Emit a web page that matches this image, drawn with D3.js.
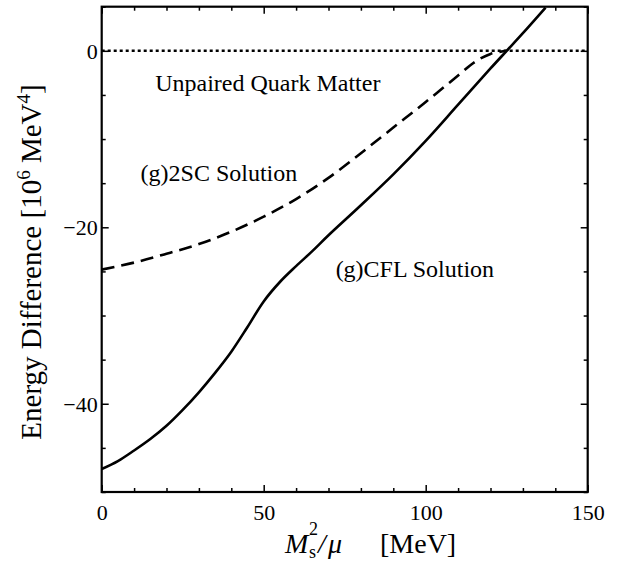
<!DOCTYPE html>
<html>
<head>
<meta charset="utf-8">
<script src="https://cdn.jsdelivr.net/npm/d3@7"></script>
<style>
html,body{margin:0;padding:0;background:#fff;}
svg{display:block;}
text{font-family:"Liberation Serif","Times New Roman",serif;fill:#000;}
</style>
</head>
<body>
<svg id="chart" width="619" height="562"></svg>
<script>
// ---- data ----
const cflX = [0,5,10,15,20,25,30,35,40,45,50,55,60,65,70,80,90,100,110,120,125,130,137];
const cflY = [-47.4,-46.5,-45.3,-44.0,-42.5,-40.7,-38.7,-36.5,-34.1,-31.3,-28.4,-26.2,-24.4,-22.7,-20.9,-17.5,-14.0,-10.2,-6.1,-2.0,0,2.0,4.9];
const scX = [0,10,20,30,40,50,60,70,80,90,100,110,115,120,125];
const scY = [-24.8,-24.0,-23.0,-21.9,-20.5,-18.8,-16.8,-14.4,-11.6,-8.7,-5.8,-2.8,-1.3,-0.35,0];
const zeroX = [0,150];
const zeroY = [0,0];
const xMajor = [0,50,100,150];
const xMinor = [10,20,30,40,60,70,80,90,110,120,130,140];
const yMajor = [0,-20,-40];
const yMinor = [5,-5,-10,-15,-25,-30,-35,-45,-50];
const labels = [
  {text:"Unpaired Quark Matter", x:16.5, y:-4.5},
  {text:"(g)2SC Solution", x:12, y:-14.7},
  {text:"(g)CFL Solution", x:72.2, y:-25.6}
];

// ---- layout ----
const L = 101.7, R = 587.7, T = 6.7, B = 492;
const FONT = '"Liberation Serif","Times New Roman",serif';
const svg = d3.select("#chart");
const x = d3.scaleLinear().domain([0,150]).range([L,R]);
const y = d3.scaleLinear().domain([-50,5]).range([B,T]);

svg.append("defs").append("clipPath").attr("id","clip")
  .append("rect").attr("x",L).attr("y",T).attr("width",R-L).attr("height",B-T);

const fmt = d => d < 0 ? "\u2212" + Math.abs(d) : String(d);

function addAxis(axisFn, scale, ticks, size, transform, labelsOn) {
  const g = svg.append("g").attr("transform", transform)
    .call(axisFn(scale).tickValues(ticks).tickSize(size).tickSizeOuter(0)
      .tickFormat(labelsOn ? fmt : ""));
  g.attr("font-family", FONT);
  g.select(".domain").remove();
  g.selectAll(".tick line").attr("stroke","#000").attr("stroke-width",1.5);
  return g;
}
// bottom
const gb = addAxis(d3.axisBottom, x, xMajor, -7, `translate(0,${B})`, true);
gb.selectAll("text").attr("font-size",22).attr("y",12.5).attr("dy","0.71em").attr("fill","#000");
addAxis(d3.axisBottom, x, xMinor, -4, `translate(0,${B})`, false);
// top
addAxis(d3.axisTop, x, xMajor, -7, `translate(0,${T})`, false);
addAxis(d3.axisTop, x, xMinor, -4, `translate(0,${T})`, false);
// left
const gl = addAxis(d3.axisLeft, y, yMajor, -7, `translate(${L},0)`, true);
gl.selectAll("text").attr("font-size",22).attr("x",-4).attr("dy","0.34em").attr("fill","#000");
addAxis(d3.axisLeft, y, yMinor, -4, `translate(${L},0)`, false);
// right
addAxis(d3.axisRight, y, yMajor, -7, `translate(${R},0)`, false);
addAxis(d3.axisRight, y, yMinor, -4, `translate(${R},0)`, false);

// frame
svg.append("rect").attr("x",L).attr("y",T).attr("width",R-L).attr("height",B-T)
  .attr("fill","none").attr("stroke","#000").attr("stroke-width",2.2);

// lines
const line = d3.line().x(d=>x(d[0])).y(d=>y(d[1])).curve(d3.curveCatmullRom.alpha(0.5));
const plot = svg.append("g").attr("clip-path","url(#clip)");
plot.append("path").datum(zeroX.map((v,i)=>[v,zeroY[i]]))
  .attr("d",line).attr("fill","none").attr("stroke","#000")
  .attr("stroke-width",2.6).attr("stroke-dasharray","3,3");
plot.append("path").datum(scX.map((v,i)=>[v,scY[i]]))
  .attr("d",line).attr("fill","none").attr("stroke","#000")
  .attr("stroke-width",2.6).attr("stroke-dasharray","13,7");
plot.append("path").datum(cflX.map((v,i)=>[v,cflY[i]]))
  .attr("d",line).attr("fill","none").attr("stroke","#000")
  .attr("stroke-width",2.6);

// annotations
svg.selectAll(".ann").data(labels).enter().append("text")
  .attr("class","ann").attr("x",d=>x(d.x)).attr("y",d=>y(d.y))
  .attr("font-size",24).text(d=>d.text);

// x title
const xt = svg.append("text").attr("x",285).attr("y",553).attr("font-size",28);
xt.append("tspan").attr("font-style","italic").text("M");
xt.append("tspan").attr("x",309).attr("font-size",18).attr("dy",5).text("s");
xt.append("tspan").attr("x",309).attr("font-size",18).attr("dy",-23).text("2");
xt.append("tspan").attr("x",318).attr("dy",18).attr("font-style","italic").text("/");
xt.append("tspan").attr("x",328).attr("font-style","italic").text("\u03bc");
xt.append("tspan").attr("x",380).text("[MeV]");

// y title
const yt = svg.append("text").attr("transform","translate(41,262) rotate(-90)")
  .attr("text-anchor","middle").attr("font-size",29);
yt.append("tspan").text("Energy Difference [10");
yt.append("tspan").attr("font-size",19).attr("dy",-11).text("6");
yt.append("tspan").attr("dy",11).text(" MeV");
yt.append("tspan").attr("font-size",19).attr("dy",-11).text("4");
yt.append("tspan").attr("dy",11).text("]");
</script>
</body>
</html>
